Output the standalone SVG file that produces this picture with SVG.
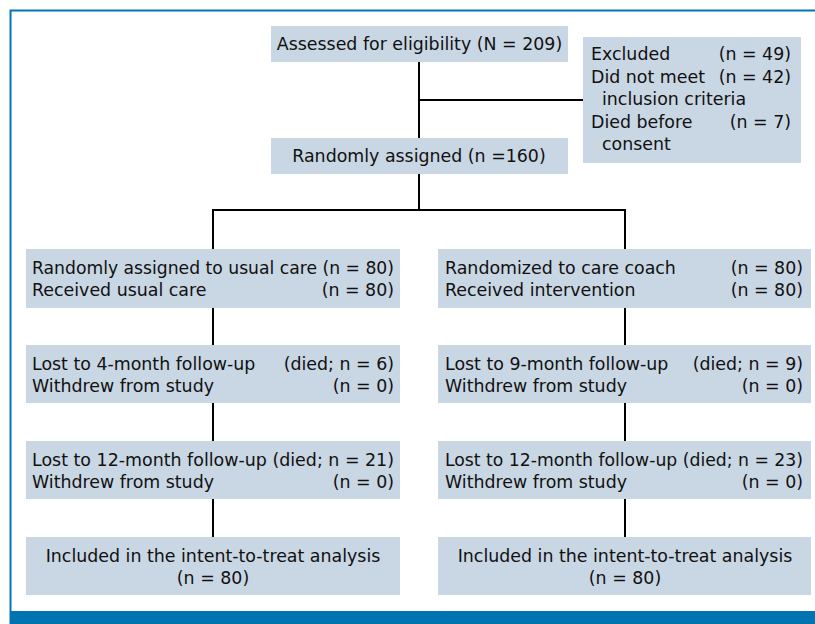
<svg xmlns="http://www.w3.org/2000/svg" width="815" height="624" viewBox="0 0 815 624">
<style>
.box{fill:#C9D6E3;}
text{font-family:"DejaVu Sans",Verdana,sans-serif;font-size:17.4px;fill:#111;}
.e{text-anchor:end;}
.m{text-anchor:middle;}
.c{stroke:#000;stroke-width:2;fill:none;}
</style>
<rect x="0" y="0" width="815" height="624" fill="#fff"/>
<path d="M10.5 624 V10.5 H815" stroke="#0077B3" stroke-width="2" fill="none"/>
<rect x="10" y="611" width="805" height="13" fill="#0074B0"/>
<g id="connectors">
<path class="c" d="M419 62 V138 M419 100 H583 M419 174 V210 M213 210 H625 M213 209 V249 M625 209 V249"/>
<path class="c" d="M213 308 V345 M213 403 V441 M213 499 V537 M625 308 V345 M625 403 V441 M625 499 V537"/>
</g>
<g id="assessed">
<rect class="box" x="271" y="26" width="297" height="36"/>
<text class="m" x="419.5" y="50">Assessed for eligibility (N = 209)</text>
</g>
<g id="excluded">
<rect class="box" x="583" y="37" width="218" height="126"/>
<text x="591" y="60">Excluded</text><text class="e" x="791" y="60">(n = 49)</text>
<text x="591" y="82.5">Did not meet</text><text class="e" x="791" y="82.5">(n = 42)</text>
<text x="602" y="105">inclusion criteria</text>
<text x="591" y="127.5">Died before</text><text class="e" x="791" y="127.5">(n = 7)</text>
<text x="602" y="150">consent</text>
</g>
<g id="randomized">
<rect class="box" x="271" y="138" width="297" height="36"/>
<text class="m" x="419" y="162">Randomly assigned (n =160)</text>
</g>
<g id="usual-care">
<rect class="box" x="26" y="249" width="374" height="59"/>
<text x="32" y="274" textLength="362" lengthAdjust="spacingAndGlyphs">Randomly assigned to usual care (n = 80)</text>
<text x="32" y="296">Received usual care</text><text class="e" x="394" y="296">(n = 80)</text>
</g>
<g id="care-coach">
<rect class="box" x="438" y="249" width="373" height="59"/>
<text x="445" y="274">Randomized to care coach</text><text class="e" x="803" y="274">(n = 80)</text>
<text x="445" y="296">Received intervention</text><text class="e" x="803" y="296">(n = 80)</text>
</g>
<g id="left-4month">
<rect class="box" x="26" y="345" width="374" height="58"/>
<text x="32" y="370">Lost to 4-month follow-up</text><text class="e" x="394" y="370">(died; n = 6)</text>
<text x="32" y="392">Withdrew from study</text><text class="e" x="394" y="392">(n = 0)</text>
</g>
<g id="right-9month">
<rect class="box" x="438" y="345" width="373" height="58"/>
<text x="445" y="370">Lost to 9-month follow-up</text><text class="e" x="803" y="370">(died; n = 9)</text>
<text x="445" y="392">Withdrew from study</text><text class="e" x="803" y="392">(n = 0)</text>
</g>
<g id="left-12month">
<rect class="box" x="26" y="441" width="374" height="58"/>
<text x="32" y="466" textLength="362" lengthAdjust="spacingAndGlyphs">Lost to 12-month follow-up (died; n = 21)</text>
<text x="32" y="488">Withdrew from study</text><text class="e" x="394" y="488">(n = 0)</text>
</g>
<g id="right-12month">
<rect class="box" x="438" y="441" width="373" height="58"/>
<text x="445" y="466" textLength="358" lengthAdjust="spacingAndGlyphs">Lost to 12-month follow-up (died; n = 23)</text>
<text x="445" y="488">Withdrew from study</text><text class="e" x="803" y="488">(n = 0)</text>
</g>
<g id="left-itt">
<rect class="box" x="26" y="537" width="374" height="58"/>
<text class="m" x="213" y="562">Included in the intent-to-treat analysis</text>
<text class="m" x="213" y="584">(n = 80)</text>
</g>
<g id="right-itt">
<rect class="box" x="438" y="537" width="373" height="58"/>
<text class="m" x="625" y="562">Included in the intent-to-treat analysis</text>
<text class="m" x="625" y="584">(n = 80)</text>
</g>
</svg>
